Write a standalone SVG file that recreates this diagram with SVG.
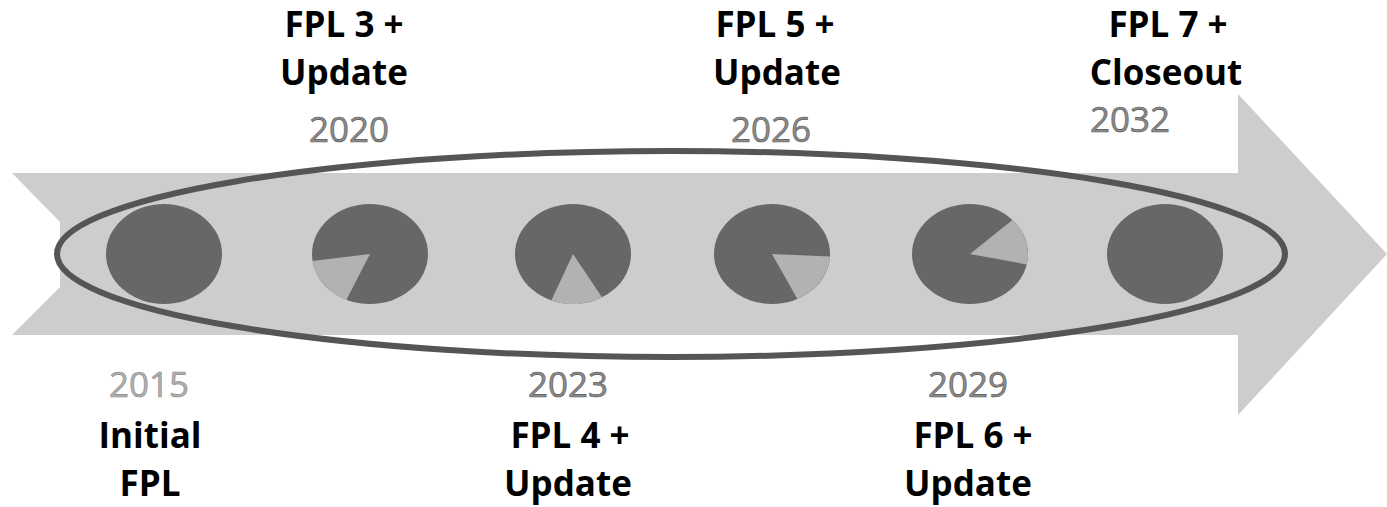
<svg xmlns="http://www.w3.org/2000/svg" width="1387" height="507" viewBox="0 0 1387 507">
<style>
.title{font-family:"Open Sans","Liberation Sans",sans-serif;font-weight:bold;font-size:35px;fill:#000;text-anchor:middle}
.year{font-family:"Open Sans","Liberation Sans",sans-serif;font-size:35px;fill:#8a8a8a;stroke:#5a5a5a;stroke-width:0.6;text-anchor:middle}
.faded{fill:#b0b0b0;stroke:#8a8a8a}
.pie{fill:#676767}
.slice{fill:#b2b2b2}
</style>
<rect width="1387" height="507" fill="#ffffff"/>
<g id="timeline">
<polygon points="12,173 1238,173 1238,94 1387,254 1238,415 1238,335 12,335 60,287 60,222" fill="#cdcdcd"/>
<ellipse cx="671" cy="254" rx="614" ry="103" fill="none" stroke="#555555" stroke-width="6"/>
</g>
<g id="connectors"></g>
<g id="node-2015">
<ellipse class="pie" cx="164" cy="254" rx="58" ry="50"/>
<text class="year faded" x="149" y="397">2015</text>
<text class="title" x="150" y="448">Initial</text>
<text class="title" x="150" y="496">FPL</text>
</g>
<g id="node-2020">
<ellipse class="pie" cx="370" cy="254" rx="58" ry="50"/>
<path class="slice" d="M370,254 L346.4,299.7 A58,50 0 0 1 312.6,261 Z"/>
<text class="title" x="344" y="37">FPL 3 +</text>
<text class="title" x="344" y="85">Update</text>
<text class="year" x="349" y="142">2020</text>
</g>
<g id="node-2023">
<ellipse class="pie" cx="573" cy="254" rx="58" ry="50"/>
<path class="slice" d="M573,254 L602,297.3 A58,50 0 0 1 551.3,300.4 Z"/>
<text class="year" x="568" y="397">2023</text>
<text class="title" x="570" y="448">FPL 4 +</text>
<text class="title" x="568" y="496">Update</text>
</g>
<g id="node-2026">
<ellipse class="pie" cx="772" cy="254" rx="58" ry="50"/>
<path class="slice" d="M772,254 L829.9,256.6 A58,50 0 0 1 797.4,298.9 Z"/>
<text class="title" x="775" y="37">FPL 5 +</text>
<text class="title" x="777" y="85">Update</text>
<text class="year" x="771" y="142">2026</text>
</g>
<g id="node-2029">
<ellipse class="pie" cx="970" cy="254" rx="58" ry="50"/>
<path class="slice" d="M970,254 L1012.4,219.9 A58,50 0 0 1 1026.7,264.4 Z"/>
<text class="year" x="968" y="397">2029</text>
<text class="title" x="973" y="448">FPL 6 +</text>
<text class="title" x="968" y="496">Update</text>
</g>
<g id="node-2032">
<ellipse class="pie" cx="1165" cy="254" rx="58" ry="50"/>
<text class="title" x="1168" y="37">FPL 7 +</text>
<text class="title" x="1166" y="85">Closeout</text>
<text class="year" x="1130" y="132">2032</text>
</g>
</svg>
